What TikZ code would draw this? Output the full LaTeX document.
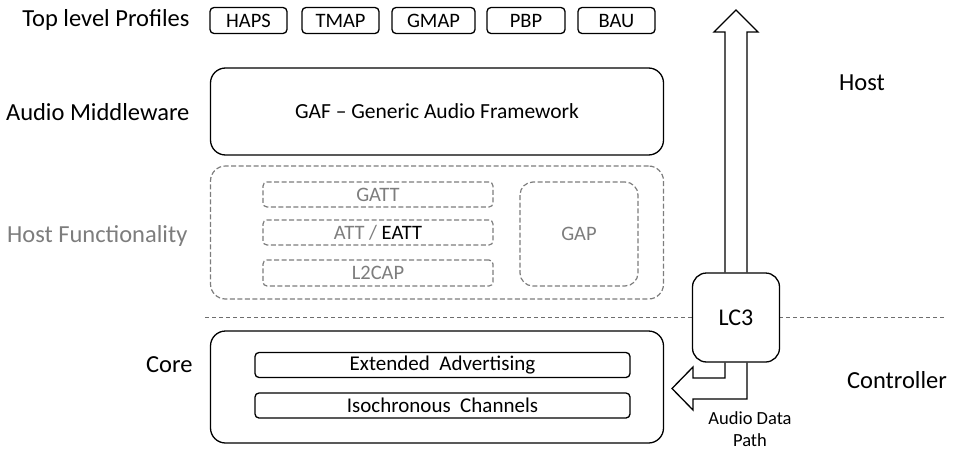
\documentclass[tikz,border=0pt]{standalone}
\usepackage{fontspec}
\setmainfont{Carlito}
\usetikzlibrary{calc}
\definecolor{hostgray}{RGB}{125,125,125}
\definecolor{sepgray}{RGB}{110,110,110}
\begin{document}
\begin{tikzpicture}[x=1pt,y=-1pt,
  lbl/.style={anchor=east,font=\fontsize{24.5}{28}\selectfont},
  sidelbl/.style={font=\fontsize{24.5}{28}\selectfont},
  profile/.style={draw,line width=1.3pt,rounded corners=4pt,minimum width=77pt,minimum height=26pt,inner sep=0pt,font=\fontsize{20.5}{24}\selectfont},
  bigbox/.style={draw,line width=1.3pt,rounded corners=15pt,minimum width=453pt,inner sep=0pt,font=\fontsize{21.5}{25}\selectfont},
  subbox/.style={draw,line width=1.3pt,rounded corners=4pt,minimum width=375pt,minimum height=25pt,inner sep=0pt,font=\fontsize{21}{25}\selectfont},
  hostdash/.style={draw=hostgray,line width=1.2pt,dash pattern=on 5pt off 2.5pt,text=hostgray,inner sep=0pt,font=\fontsize{20.5}{24}\selectfont},
  outline/.style={draw,line width=1.3pt,line join=miter}
]
\useasboundingbox (0,0) rectangle (954,450);

% layer labels
\node[lbl] (lprof) at (193,20) {Top level Profiles};
\node[lbl] (lmid) at (193,112) {Audio Middleware};
\node[lbl,text=hostgray] (lhost) at (191,236) {Host Functionality};
\node[lbl] (lcore) at (196,365) {Core};

% top level profiles
\node[profile] (haps) at (248.5,20.5) {HAPS};
\node[profile] (tmap) at (340.5,20.5) {TMAP};
\node[profile,minimum width=83pt] (gmap) at (433.5,20.5) {GMAP};
\node[profile,minimum width=78pt] (pbp) at (526,20.5) {PBP};
\node[profile] (bau) at (616.5,20.5) {BAU};

% audio middleware
\node[bigbox,minimum height=87pt] (gaf) at (437,111.5) {GAF -- Generic Audio Framework};

% host functionality
\node[hostdash,rounded corners=15pt,minimum width=453pt,minimum height=133pt] (hostf) at (437,232.5) {};
\node[hostdash,rounded corners=4pt,minimum width=230pt,minimum height=25pt] (gatt) at (378,194.5) {GATT};
\node[hostdash,rounded corners=4pt,minimum width=230pt,minimum height=25pt] (att) at (378,232.5) {ATT / \textcolor{black}{EATT}};
\node[hostdash,rounded corners=4pt,minimum width=230pt,minimum height=26pt] (l2cap) at (378,273) {L2CAP};
\node[hostdash,rounded corners=13pt,minimum width=118pt,minimum height=104pt] (gap) at (579,234) {GAP};

% host / controller boundary
\coordinate (sepL) at (205,317);
\coordinate (sepR) at (945,317);
\draw[sepgray,line width=0.9pt,dash pattern=on 4pt off 3pt] (sepL) -- (sepR);

% core
\node[bigbox,minimum height=112pt] (core) at (437,387) {};
\node[subbox] (extadv) at (442.5,365) {Extended\ \ Advertising};
\node[subbox] (iso) at (442.5,405.5) {Isochronous\ \ Channels};

% codec
\node[draw,fill=white,line width=1.3pt,rounded corners=14pt,minimum width=87pt,minimum height=89pt,inner sep=0pt,font=\fontsize{24}{28}\selectfont] (lc3) at (736,317.5) {LC3};

% audio data path arrows
\coordinate (uptip) at (736,10);
\coordinate (uphead) at (736,32);
\draw[outline] ([xshift=-11pt]lc3.north) -- ([xshift=-11pt]uphead) -- ([xshift=-22pt]uphead)
  -- (uptip) -- ([xshift=22pt]uphead) -- ([xshift=11pt]uphead) -- ([xshift=11pt]lc3.north);

\coordinate (lefttip) at (672,388.5);
\coordinate (lefthead) at (693,388.5);
\draw[outline] ([xshift=-11pt]lc3.south) |- ([yshift=10.5pt]lefthead) -- ([yshift=21.5pt]lefthead)
  -- (lefttip) -- ([yshift=-21.5pt]lefthead) -- ([yshift=-10.5pt]lefthead) -| ([xshift=11pt]lc3.south);

\node[align=center,font=\fontsize{18.5}{22}\selectfont] (adp) at (750,429) {Audio Data\\Path};

% side labels
\node[sidelbl] (hostlbl) at (862,83) {Host};
\node[sidelbl] (ctrllbl) at (897,380) {Controller};
\end{tikzpicture}
\end{document}
